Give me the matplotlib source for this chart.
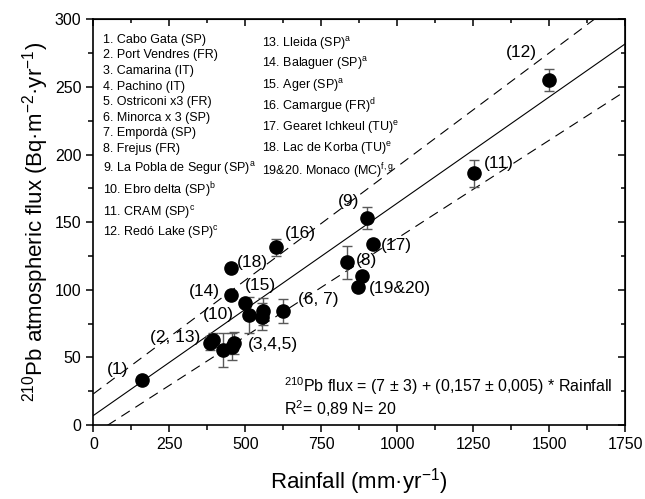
import matplotlib
matplotlib.use('Agg')
import matplotlib.pyplot as plt
import numpy as np

plt.rcParams['font.family'] = ['Liberation Sans', 'DejaVu Sans']
plt.rcParams['mathtext.fontset'] = 'custom'
plt.rcParams['mathtext.rm'] = 'Liberation Sans'
plt.rcParams['mathtext.it'] = 'Liberation Sans:italic'
plt.rcParams['mathtext.default'] = 'regular'

# 降水量と210Pb大気沈着フラックス (観測点ごと)
rain = [160, 384, 395, 426, 455, 463, 513, 499, 452, 452, 557, 555, 625, 601,
        834, 900, 922, 885, 870, 1252, 1500]
flux = [33, 60.5, 63, 55.5, 58, 60.5, 81.4, 90.5, 96, 116, 84, 80, 84.5, 131.4,
        120.3, 153.3, 134, 110, 102, 186, 255]
flux_err = [0, 5, 5, 12.5, 10, 8, 13.5, 0, 0, 0, 10, 10, 9, 6.5,
            12, 8, 0, 0, 0, 10, 8]

# 回帰直線と信頼帯 (切片, 傾き)
fit = (7, 0.157)
band_hi = (23, 0.168)
band_lo = (-7, 0.145)

# 点ラベル
pt_labels = ['(1)', '(2, 13)', '(3,4,5)', '(10)', '(14)', '(15)', '(18)', '(16)',
             '(6, 7)', '(17)', '(8)', '(19&20)', '(9)', '(11)', '(12)']
pt_label_x = [79, 269, 590, 411, 364, 549, 525, 680, 739, 999, 900, 1009, 839, 1333, 1410]
pt_label_y = [40.7, 64.9, 59.2, 81.4, 99, 102.8, 120.3, 141.3, 92.5, 133, 121.5, 101, 165, 193.5, 275.4]

# 地点一覧
sites_left = ['1. Cabo Gata (SP)', '2. Port Vendres (FR)', '3. Camarina (IT)',
              '4. Pachino (IT)', '5. Ostriconi x3 (FR)', '6. Minorca x 3 (SP)',
              '7. Empordà (SP)', '8. Frejus (FR)',
              '9. La Pobla de Segur (SP)$^{a}$', '10. Ebro delta (SP)$^{b}$',
              '11. CRAM (SP)$^{c}$', '12. Redó Lake (SP)$^{c}$']
sites_left_y = [282.3, 271.2, 259.6, 248, 236.9, 225.1, 213.5, 202.1, 186.9, 170.9, 154.8, 140]
sites_right = ['13. Lleida (SP)$^{a}$', '14. Balaguer (SP)$^{a}$', '15. Ager (SP)$^{a}$',
               '16. Camargue (FR)$^{d}$', '17. Gearet Ichkeul (TU)$^{e}$',
               '18. Lac de Korba (TU)$^{e}$', '19&20. Monaco (MC)$^{f,g}$']
sites_right_y = [279.8, 264.6, 248.5, 232.4, 217.2, 201.7, 184.9]

fig = plt.figure(figsize=(6.45, 4.99), dpi=100)
ax = fig.add_axes([0.1447, 0.1483, 0.969 - 0.1447, 0.9613 - 0.1483])

xs = np.array([0, 1750])
ax.plot(xs, fit[0] + fit[1] * xs, color='black', lw=0.8)
for a, b in (band_hi, band_lo):
    ax.plot(xs, a + b * xs, color='black', lw=0.8, linestyle=(0, (9, 6)))

ax.errorbar(rain, flux, yerr=flux_err, fmt='none', ecolor='0.35', elinewidth=1.0,
            capsize=3.5, capthick=1.0, zorder=3)
ax.plot(rain, flux, 'o', color='black', markersize=9.5, zorder=4)

for t, x, y in zip(pt_labels, pt_label_x, pt_label_y):
    ax.text(x, y, t, fontsize=12.5, ha='center', va='center', zorder=5)

for t, y in zip(sites_left, sites_left_y):
    ax.text(31, y, t, fontsize=9, ha='left', va='baseline')
for t, y in zip(sites_right, sites_right_y):
    ax.text(554, y, t, fontsize=9, ha='left', va='baseline')

ax.text(0.358, 0.095, '$^{210}$Pb flux = (7 ± 3) + (0,157 ± 0,005) * Rainfall',
        transform=ax.transAxes, fontsize=11.5, ha='left', va='center')
ax.text(0.358, 0.04, 'R$^{2}$= 0,89 N= 20',
        transform=ax.transAxes, fontsize=11.5, ha='left', va='center')

ax.set_xlim(0, 1750)
ax.set_ylim(0, 300)
ax.set_xticks(np.arange(0, 1751, 250))
ax.set_xticks(np.arange(125, 1750, 250), minor=True)
ax.set_yticks(np.arange(0, 301, 50))
ax.set_yticks(np.arange(25, 300, 50), minor=True)

ax.tick_params(which='both', direction='out', labelsize=11.5, width=1.1)
ax.tick_params(which='major', length=5)
ax.tick_params(which='minor', length=3.5)
for s in ax.spines.values():
    s.set_linewidth(1.2)

# 上・右軸は内向きの目盛り
axt = ax.secondary_xaxis('top')
axt.set_xticks(np.arange(0, 1751, 250))
axt.set_xticks(np.arange(125, 1750, 250), minor=True)
axt.tick_params(which='both', direction='in', labeltop=False, width=1.1)
axt.tick_params(which='major', length=5)
axt.tick_params(which='minor', length=3)
axr = ax.secondary_yaxis('right')
axr.set_yticks(np.arange(0, 301, 50))
axr.set_yticks(np.arange(25, 300, 50), minor=True)
axr.tick_params(which='both', direction='in', labelright=False, width=1.1)
axr.tick_params(which='major', length=5)
axr.tick_params(which='minor', length=3)

ax.set_xlabel('Rainfall (mm·yr$^{-1}$)', fontsize=16, labelpad=10)
ax.set_ylabel('$^{210}$Pb atmospheric flux (Bq·m$^{-2}$·yr$^{-1}$)', fontsize=16, labelpad=3)

fig.savefig('out.png', dpi=100)
